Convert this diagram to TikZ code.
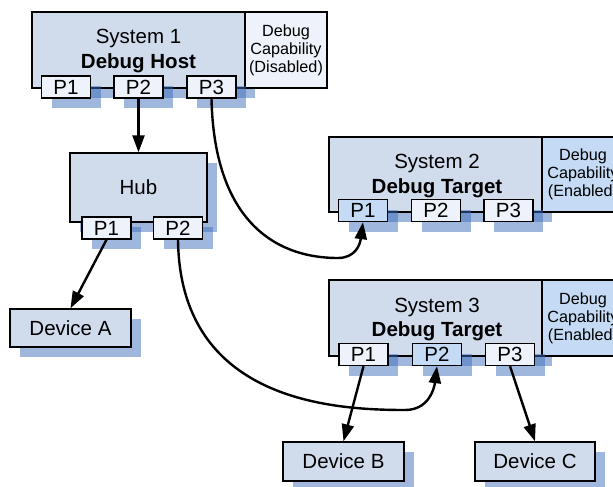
\documentclass[tikz,border=0pt]{standalone}
\usepackage{fontspec}
\setmainfont{Liberation Sans}
\usetikzlibrary{shadows,arrows.meta}
\definecolor{mainc}{HTML}{D0DCEC}
\definecolor{portc}{HTML}{EEF2FA}
\definecolor{hic}{HTML}{C5DBF5}
\definecolor{shcol}{HTML}{3F6FBB}
\tikzset{
  shad/.style={drop shadow={opacity=0.5, fill=shcol, shadow xshift=10pt, shadow yshift=-10pt}},
  boxbase/.style={draw=black, line width=1.4pt, inner sep=0pt, font=\fontsize{20.5}{23}\selectfont},
  sysbox/.style={boxbase, shad, fill=mainc, minimum width=213pt, minimum height=76pt},
  dbgbox/.style={boxbase, fill=portc, minimum width=82pt, minimum height=76pt, align=center, font=\fontsize{16.2}{18}\selectfont},
  portbox/.style={boxbase, shad, fill=portc, minimum width=49pt, minimum height=22pt},
  hubbox/.style={boxbase, shad, fill=mainc, minimum width=137pt, minimum height=69pt},
  devbox/.style={boxbase, shad, fill=mainc, minimum width=121pt, minimum height=38pt},
  systext/.style={inner sep=0pt, anchor=base, font=\fontsize{20.5}{23}\selectfont},
  conn/.style={draw=black, line width=2.4pt, -{Triangle[length=17pt,width=12pt]}},
}
\begin{document}
\begin{tikzpicture}[x=1pt,y=-1pt]
\useasboundingbox (0,0) rectangle (613,487);
\clip (0,0) rectangle (613,487);
% System 1
\node[sysbox] (s1) at (138.5,50) {};
\node[dbgbox] (d1) at (286,50) {Debug\\Capability\\(Disabled)};
\node[systext] (s1a) at (138.5,44) {System 1};
\node[systext, font=\fontsize{20.5}{23}\selectfont\bfseries] (s1b) at (138.5,68) {Debug Host};
\node[portbox] (s1p1) at (66,87) {P1};
\node[portbox] (s1p2) at (138.5,87) {P2};
\node[portbox] (s1p3) at (211.5,87) {P3};
% System 2
\node[sysbox, minimum height=75pt] (s2) at (435.5,174.5) {};
\node[dbgbox, fill=hic, minimum height=75pt] (d2) at (583,174.5) {Debug\\Capability\\(Enabled)};
\node[systext] (s2a) at (437,168) {System 2};
\node[systext, font=\fontsize{20.5}{23}\selectfont\bfseries] (s2b) at (437,193) {Debug Target};
\node[portbox, fill=hic] (s2p1) at (363,210.5) {P1};
\node[portbox] (s2p2) at (436,210.5) {P2};
\node[portbox] (s2p3) at (508.5,210.5) {P3};
% System 3
\node[sysbox] (s3) at (435.5,318) {};
\node[dbgbox, fill=hic] (d3) at (583,318) {Debug\\Capability\\(Enabled)};
\node[systext] (s3a) at (437,312) {System 3};
\node[systext, font=\fontsize{20.5}{23}\selectfont\bfseries] (s3b) at (437,336) {Debug Target};
\node[portbox] (s3p1) at (363.5,354.5) {P1};
\node[portbox, fill=hic] (s3p2) at (437,354.5) {P2};
\node[portbox] (s3p3) at (510,354.5) {P3};
% Hub
\node[hubbox] (hub) at (138.5,187.5) {Hub};
\node[portbox] (hp1) at (106.5,228) {P1};
\node[portbox] (hp2) at (178,228) {P2};
% Devices
\node[devbox] (devA) at (70.5,328) {Device A};
\node[devbox, minimum height=39pt] (devB) at (343.5,461.5) {Device B};
\node[devbox, minimum height=39pt, minimum width=120pt] (devC) at (535,461.5) {Device C};
% Connectors
\draw[conn] (s1p2.south) -- (hub.north);
\draw[conn] (s1p3.south) .. controls (214,215) and (270,258) .. (338,258) .. controls (355,258) and (360,245) .. (s2p1.south);
\draw[conn] (hp1.south) -- (devA.north);
\draw[conn] (hp2.south) .. controls (180,400) and (330,410) .. (405,410) .. controls (428,410) and (434,390) .. (s3p2.south);
\draw[conn] (s3p1.south) -- (devB.north);
\draw[conn] (s3p3.south) -- (devC.north);
\end{tikzpicture}
\end{document}
